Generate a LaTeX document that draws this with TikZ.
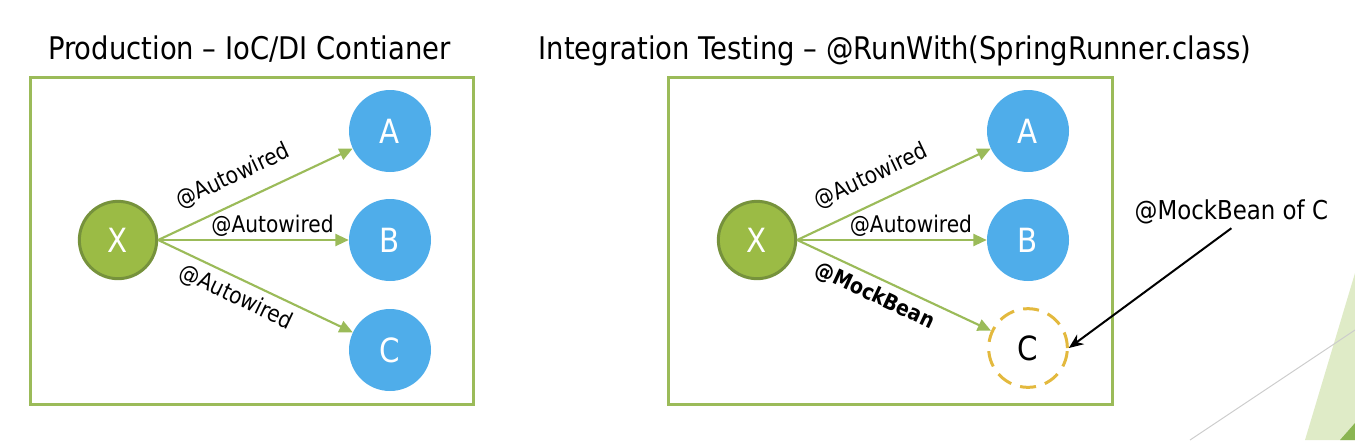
\documentclass[tikz,border=0pt]{standalone}
\usepackage{fontspec}
\setmainfont[FakeStretch=0.88]{DejaVu Sans}
\usetikzlibrary{arrows.meta}
\definecolor{boxgreen}{HTML}{9BBB59}
\definecolor{xgreen}{HTML}{9BBB45}
\definecolor{xborder}{HTML}{76923C}
\definecolor{beanblue}{HTML}{4FADEA}
\definecolor{mockgold}{HTML}{E3B93E}
\definecolor{paleleaf}{HTML}{DFEBC7}
\definecolor{darkleaf}{HTML}{8AB552}
\begin{document}
\begin{tikzpicture}[x=0.75pt,y=-0.75pt,
    container/.style={draw=boxgreen, line width=2.25pt},
    heading/.style={anchor=base, font=\fontsize{23.4}{26}\selectfont},
    client/.style={circle, fill=xgreen, draw=xborder, line width=2.25pt, minimum size=58pt, text=white, font=\fontsize{25}{28}\selectfont},
    bean/.style={circle, fill=beanblue, minimum size=61.5pt, text=white, font=\fontsize{25}{28}\selectfont},
    mock/.style={circle, draw=mockgold, line width=2.25pt, dash pattern=on 12pt off 7pt, minimum size=59pt, font=\fontsize{25}{28}\selectfont},
    wire/.style={draw=boxgreen, line width=1.6pt, -{Triangle[length=10pt,width=9pt]}},
    tag/.style={sloped, font=\fontsize{17.2}{20}\selectfont, inner sep=2pt}]
            % slide: two containers, X wired to A, B and C
            \useasboundingbox (0,0) rectangle (1355,440);
            \fill[paleleaf] (1355,273) -- (1305,440) -- (1355,440) -- cycle;
            \fill[darkleaf] (1340,440) -- (1355,423) -- (1355,440) -- cycle;
            \draw[black!20, line width=0.75pt] (1190,440) -- (1355,330);

            \node[heading] (prodtitle) at (249.5,59) {Production – IoC/DI Contianer};
            \node[heading] (testtitle) at (895,59) {Integration Testing – @RunWith(SpringRunner.class)};
            \draw[container] (30,77) rectangle (473,404);
            \draw[container] (668,77) rectangle (1112,404);

            % production
            \node[client] (x1) at (118,240) {X};
            \node[bean] (a1) at (390,131) {A};
            \node[bean] (b1) at (390,240) {B};
            \node[bean] (c1) at (390,350) {C};
            \draw[wire] (x1.east) -- (a1) node[tag, pos=0.44, above=8.5pt] {@Autowired};
            \draw[wire] (x1.east) -- (b1) node[tag, pos=0.6, above=0pt] {@Autowired};
            \draw[wire] (x1.east) -- (c1) node[tag, pos=0.44, below=3pt] {@Autowired};

            % integration test
            \node[client] (x2) at (757,240) {X};
            \node[bean] (a2) at (1028,131) {A};
            \node[bean] (b2) at (1028,240) {B};
            \node[mock] (c2) at (1028,348) {C};
            \draw[wire] (x2.east) -- (a2) node[tag, pos=0.44, above=8.5pt] {@Autowired};
            \draw[wire] (x2.east) -- (b2) node[tag, pos=0.6, above=0pt] {@Autowired};
            \draw[wire] (x2.east) -- (c2) node[tag, pos=0.44, below=3pt, font=\fontsize{16.2}{19}\selectfont\bfseries] {@MockBean};

            \node[anchor=base west, font=\fontsize{19.5}{23}\selectfont] (note) at (1130,219) {@MockBean of C};
            \draw[line width=1.5pt, -{Stealth[length=11pt,width=9pt]}] (note.south) -- (c2.east);
\end{tikzpicture}
\end{document}
